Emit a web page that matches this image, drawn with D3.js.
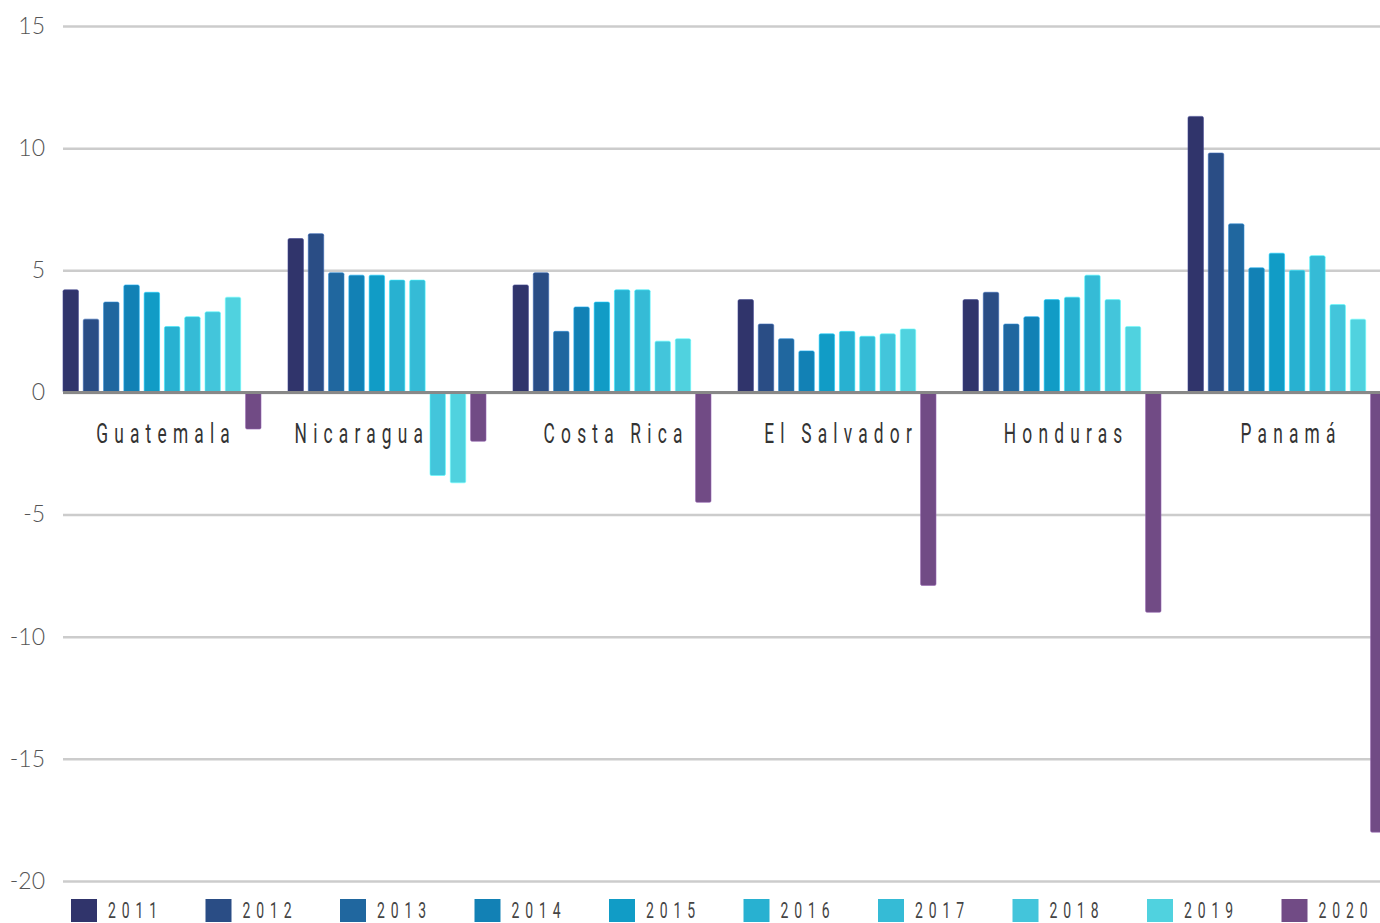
<!DOCTYPE html>
<html>
<head>
<meta charset="utf-8">
<script src="https://cdn.jsdelivr.net/npm/d3@7"></script>
<style>
html,body{margin:0;padding:0;background:#fff;overflow:hidden;}
svg{display:block;}
</style>
</head>
<body>
<svg id="chart" width="1380" height="923"></svg>
<script>
const countries = ["Guatemala","Nicaragua","Costa Rica","El Salvador","Honduras","Panamá"];
const years = ["2011","2012","2013","2014","2015","2016","2017","2018","2019","2020"];
const guatemala  = [4.2, 3.0, 3.7, 4.4, 4.1, 2.7, 3.1, 3.3, 3.9, -1.5];
const nicaragua  = [6.3, 6.5, 4.9, 4.8, 4.8, 4.6, 4.6, -3.4, -3.7, -2.0];
const costaRica  = [4.4, 4.9, 2.5, 3.5, 3.7, 4.2, 4.2, 2.1, 2.2, -4.5];
const elSalvador = [3.8, 2.8, 2.2, 1.7, 2.4, 2.5, 2.3, 2.4, 2.6, -7.9];
const honduras   = [3.8, 4.1, 2.8, 3.1, 3.8, 3.9, 4.8, 3.8, 2.7, -9.0];
const panama     = [11.3, 9.8, 6.9, 5.1, 5.7, 5.0, 5.6, 3.6, 3.0, -18.0];
const yTicks = [15, 10, 5, 0, -5, -10, -15, -20];
const colors = ["#30346b","#2a4d85","#20679f","#1281b5","#119cc6","#28b1d1","#35bbd6","#43c5db","#50d2df","#714b85"];

const seriesByCountry = [guatemala, nicaragua, costaRica, elSalvador, honduras, panama];
const data = countries.map((c, i) => ({country: c, values: years.map((y, j) => ({year: y, value: seriesByCountry[i][j]}))}));

const svg = d3.select("#chart");
const W = 1380, left = 63;

const y = d3.scaleLinear().domain([-20, 15]).range([881, 26]);
const x0 = d3.scaleBand().domain(countries).range([left, left + 5*225 + 198]).paddingInner(27/225).paddingOuter(0);
const x1 = d3.scaleBand().domain(years).range([0, x0.bandwidth()]).paddingInner(0.24).paddingOuter(0);
const color = d3.scaleOrdinal().domain(years).range(colors);

// gridlines & y labels
const yAxis = d3.axisLeft(y).tickValues(yTicks).tickSize(-(W - left)).tickFormat(d => String(d)).tickPadding(18);
const ga = svg.append("g").attr("transform", `translate(${left},0)`).call(yAxis);
ga.select(".domain").remove();
ga.selectAll(".tick line").attr("stroke", "#cccccc").attr("stroke-width", 2.5);
ga.selectAll(".tick text")
  .attr("fill", "#555")
  .style("font-family", "Lato, 'Open Sans', sans-serif")
  .style("font-weight", 300)
  .style("font-size", "23px");

// bars
const groups = svg.append("g").selectAll("g").data(data).join("g")
  .attr("transform", d => `translate(${x0(d.country)},0)`);
groups.selectAll("rect").data(d => d.values).join("rect")
  .attr("x", d => x1(d.year))
  .attr("y", d => y(Math.max(0, d.value)))
  .attr("width", x1.bandwidth())
  .attr("height", d => Math.abs(y(d.value) - y(0)))
  .attr("rx", 1.5)
  .attr("fill", d => color(d.year))
  .attr("stroke", d => d3.color(color(d.year)).brighter(0.8))
  .attr("stroke-width", 0.6);

// zero line
svg.append("line")
  .attr("x1", left).attr("x2", W)
  .attr("y1", y(0)).attr("y2", y(0))
  .attr("stroke", "#888").attr("stroke-width", 3);

// condensed text helper
const SX = 0.62;
function condensed(sel, size, spacing, fill) {
  sel.attr("transform", `scale(${SX},1)`)
    .attr("fill", fill)
    .style("font-family", "Roboto, 'Noto Sans', sans-serif")
    .style("font-size", size + "px")
    .style("letter-spacing", spacing + "px");
}

// category labels
const lab = svg.append("g").selectAll("g").data(data).join("g");
const labText = lab.append("text").text(d => d.country);
condensed(labText, 28, 10, "#333");
lab.each(function(d) {
  const t = d3.select(this).select("text");
  const w = t.node().getBBox().width * SX - 10 * SX; // drop trailing spacing
  let cx = x0(d.country) + x0.bandwidth()/2 + 1;
  const neg = d.values.find(v => v.value < 0);
  if (neg) {
    const limit = x0(d.country) + x1(neg.year) - 7;
    if (cx + w/2 > limit) cx = limit - w/2;
  }
  t.attr("x", (cx - w/2) / SX);
  d3.select(this).attr("transform", "translate(0,443)");
});

// legend
const legendX = d3.scaleBand().domain(years).range([71, 71 + 10*134.5]);
const lg = svg.append("g").selectAll("g").data(years).join("g")
  .attr("transform", d => `translate(${legendX(d)},899)`);
lg.append("rect").attr("width", 26).attr("height", 23).attr("fill", d => color(d));
const lgText = lg.append("text").attr("x", 37 / SX).attr("y", 19).text(d => d);
condensed(lgText, 22.5, 9.5, "#444");
</script>
</body>
</html>
